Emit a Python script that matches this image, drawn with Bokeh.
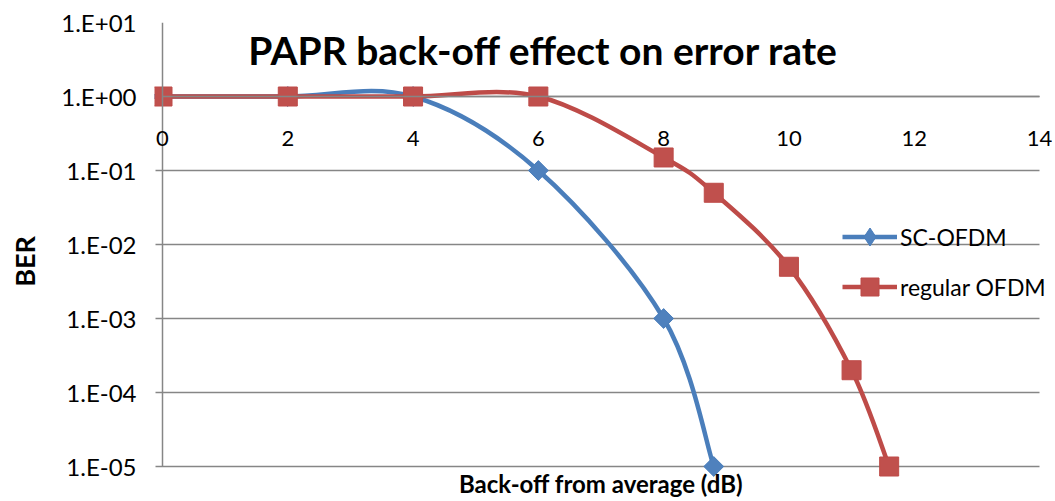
import numpy as np
from bokeh.plotting import figure
from bokeh.models import FixedTicker, LogAxis, Label, Legend, LegendItem, Grid
from bokeh.embed import file_html
from bokeh.resources import INLINE

# ---- data ----
sc_x = [0, 2, 4, 6, 8, 8.8]
sc_ber = [1.0, 1.0, 1.0, 1e-1, 1e-3, 1e-5]
reg_x = [0, 2, 4, 6, 8, 8.8, 10, 11, 11.6]
reg_ber = [1.0, 1.0, 1.0, 1.0, 0.15, 0.05, 5e-3, 2e-4, 1e-5]
x_ticks = [0, 2, 4, 6, 8, 10, 12, 14]
x_tick_labels = ["0", "2", "4", "6", "8", "10", "12", "14"]
y_ticks = [1e-5, 1e-4, 1e-3, 1e-2, 1e-1, 1e0, 1e1]
y_tick_labels = ["1.E-05", "1.E-04", "1.E-03", "1.E-02", "1.E-01", "1.E+00", "1.E+01"]
x_axis_cross = 1.0
series_names = ["SC-OFDM", "regular OFDM"]
title_text = "PAPR back-off effect on error rate"
x_label = "Back-off from average (dB)"
y_label = "BER"

BLUE_LINE, BLUE_FILL = "#4A7EBB", "#4F81BD"
RED_LINE, RED_FILL = "#BE4B48", "#C0504D"
GRAY = "#868686"
FONT = "Lato"

# layout (pixels): axes area 877 x 444 px; the frame is padded so that texts and
# markers near the edges are not clipped
PLOT_W, PLOT_H = 877.0, 444.0
PAD_LEFT_PX, PAD_RIGHT_PX, PAD_BOTTOM_PX, TICK_PX = 8.0, 13.0, 34.0, 7.0
x_lo, x_hi = x_ticks[0], x_ticks[-1]
y_lo, y_hi = y_ticks[0], y_ticks[-1]
px_per_unit = PLOT_W / (x_hi - x_lo)
px_per_decade = PLOT_H / (np.log10(y_hi) - np.log10(y_lo))
x_start = x_lo - PAD_LEFT_PX / px_per_unit
x_end = x_hi + PAD_RIGHT_PX / px_per_unit
y_start = 10 ** (np.log10(y_lo) - PAD_BOTTOM_PX / px_per_decade)
grid_start = x_lo - TICK_PX / px_per_unit


def smooth_segments(xs, ys):
    """Excel-like smoothed line: cubic Bezier control points (Catmull-Rom) in x/log10(y) space."""
    lx = np.asarray(xs, float)
    ly = np.log10(np.asarray(ys, float))
    n = len(lx)
    px = np.concatenate([[lx[0]], lx, [lx[-1]]])
    py = np.concatenate([[ly[0]], ly, [ly[-1]]])
    ax, bx, cx, dx = px[0:n - 1], px[1:n], px[2:n + 1], px[3:n + 2]
    ay, by, cy, dy = py[0:n - 1], py[1:n], py[2:n + 1], py[3:n + 2]
    c0x = bx + (cx - ax) / 6.0
    c0y = by + (cy - ay) / 6.0
    c1x = cx - (dx - bx) / 6.0
    c1y = cy - (dy - by) / 6.0
    return dict(x0=bx, y0=10 ** by, x1=cx, y1=10 ** cy,
                cx0=c0x, cy0=10 ** c0y, cx1=c1x, cy1=10 ** c1y)


p = figure(width=1052, height=500, x_range=(x_start, x_end), y_range=(y_start, y_hi),
           y_axis_type="log", output_backend="svg", toolbar_location=None,
           min_border_left=154, min_border_right=0, min_border_top=22, min_border_bottom=0)
p.outline_line_color = None
p.background_fill_color = "white"
p.border_fill_color = "white"

# x axis line crossing at BER = 1 (tick labels drawn as Label annotations)
p.xaxis.fixed_location = x_axis_cross
p.xaxis.bounds = (x_lo, x_hi)
p.xaxis.ticker = FixedTicker(ticks=[])
p.xaxis.axis_line_color = GRAY
p.xaxis.axis_line_width = 1.5
p.xaxis.major_tick_line_color = None
p.xaxis.minor_tick_line_color = None

for xv, txt in zip(x_ticks, x_tick_labels):
    p.add_layout(Label(x=xv, y=x_axis_cross, text=txt, y_offset=-42,
                       text_align="center", text_baseline="middle", text_font=FONT,
                       text_font_size="22px", text_color="black"))

# x axis title under the axes area
p.add_layout(Label(x=(x_lo + x_hi) / 2, y=y_lo, text=x_label, y_offset=-17,
                   text_align="center", text_baseline="middle", text_font=FONT,
                   text_font_style="bold", text_font_size="24px", text_color="black"))

# y axis: labels in the left panel, axis line drawn at x = 0 by a fixed axis
p.yaxis.ticker = FixedTicker(ticks=y_ticks)
p.yaxis.major_label_overrides = {t: s for t, s in zip(y_ticks, y_tick_labels)}
p.yaxis.axis_line_color = None
p.yaxis.major_tick_line_color = None
p.yaxis.major_tick_out = 0
p.yaxis.major_tick_in = 0
p.yaxis.minor_tick_line_color = None
p.yaxis.major_label_standoff = 18
p.yaxis.major_label_text_font = FONT
p.yaxis.major_label_text_font_size = "24px"
p.yaxis.major_label_text_color = "black"
p.yaxis.axis_label = y_label
p.yaxis.axis_label_text_font = FONT
p.yaxis.axis_label_text_font_style = "bold"
p.yaxis.axis_label_text_font_size = "27px"
p.yaxis.axis_label_standoff = 17
p.yaxis.axis_label_text_color = "black"

yline = LogAxis(fixed_location=x_lo, bounds=(y_lo, y_hi), ticker=FixedTicker(ticks=[]),
                axis_line_color=GRAY, axis_line_width=1.5,
                major_tick_line_color=None, minor_tick_line_color=None)
p.add_layout(yline, "left")

p.xgrid.grid_line_color = None
p.ygrid.ticker = FixedTicker(ticks=y_ticks)
p.ygrid.minor_grid_line_color = None
if "cross_bounds" in Grid.properties():
    p.ygrid.grid_line_color = GRAY
    p.ygrid.grid_line_width = 1.5
    p.ygrid.cross_bounds = (grid_start, x_hi)
else:
    p.ygrid.grid_line_color = None
    p.segment(x0=[grid_start] * len(y_ticks), y0=y_ticks, x1=[x_hi] * len(y_ticks), y1=y_ticks,
              line_color=GRAY, line_width=1.5, level="underlay")

# series
sc_seg = smooth_segments(sc_x, sc_ber)
reg_seg = smooth_segments(reg_x, reg_ber)

# legend-only helpers (single point: no visible line; tiny marker hidden under the real one)
sc_leg_line = p.line(x=sc_x[-1:], y=sc_ber[-1:], line_color=BLUE_LINE, line_width=4.5)
sc_leg_mark = p.scatter(sc_x[-1:], sc_ber[-1:], marker="diamond", size=1,
                        fill_color=BLUE_FILL, line_color=BLUE_LINE, line_width=1)
reg_leg_line = p.line(x=reg_x[-1:], y=reg_ber[-1:], line_color=RED_LINE, line_width=4.5)

p.bezier(source=sc_seg, x0="x0", y0="y0", x1="x1", y1="y1", cx0="cx0", cy0="cy0",
         cx1="cx1", cy1="cy1", line_color=BLUE_LINE, line_width=4.5, line_cap="round")
sc_pts = p.scatter(sc_x, sc_ber, marker="square", angle=np.pi / 4, size=14,
                   fill_color=BLUE_FILL, line_color=BLUE_LINE, line_width=1)
p.bezier(source=reg_seg, x0="x0", y0="y0", x1="x1", y1="y1", cx0="cx0", cy0="cy0",
         cx1="cx1", cy1="cy1", line_color=RED_LINE, line_width=4.5, line_cap="round")
reg_pts = p.scatter(reg_x, reg_ber, marker="square", size=19,
                    fill_color=RED_FILL, line_color=RED_LINE, line_width=1)

legend = Legend(items=[LegendItem(label=series_names[0], renderers=[sc_leg_line, sc_leg_mark]),
                       LegendItem(label=series_names[1], renderers=[reg_leg_line, reg_pts])],
                location=(688, 157 + PAD_BOTTOM_PX), orientation="vertical",
                glyph_width=55, glyph_height=45, spacing=5, padding=0, margin=0,
                label_standoff=3, label_text_font=FONT, label_text_font_size="23px",
                label_text_color="black", border_line_color=None, background_fill_alpha=0)
p.add_layout(legend, "center")

p.add_layout(Label(x=6.08, y=4.2, text=title_text, text_align="center",
                   text_baseline="middle", text_font=FONT, text_font_style="bold",
                   text_font_size="39px", text_color="black"))

open("out.html", "w").write(file_html(p, INLINE))
